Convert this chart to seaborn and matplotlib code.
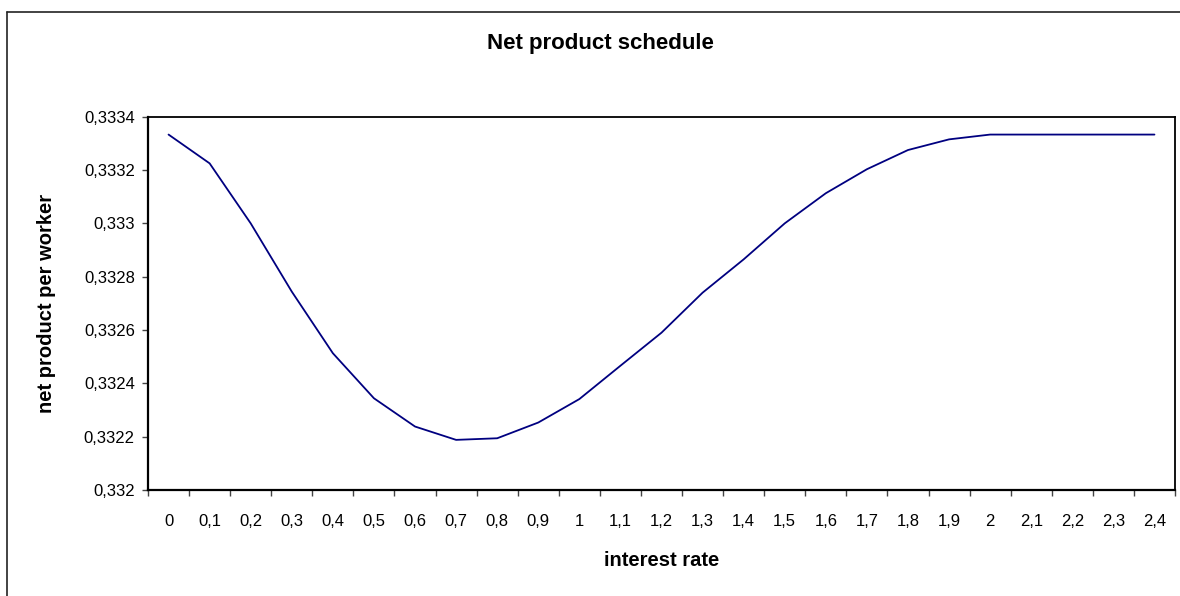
import numpy as np
import pandas as pd
import matplotlib
matplotlib.use('Agg')
import matplotlib.pyplot as plt
from matplotlib.ticker import FixedLocator, FuncFormatter, MultipleLocator
from matplotlib.lines import Line2D
import seaborn as sns

# data
rate_labels = ['0', '0,1', '0,2', '0,3', '0,4', '0,5', '0,6', '0,7', '0,8', '0,9',
               '1', '1,1', '1,2', '1,3', '1,4', '1,5', '1,6', '1,7', '1,8', '1,9',
               '2', '2,1', '2,2', '2,3', '2,4']
net_product = [0.333333, 0.333225, 0.333000, 0.332744, 0.332513, 0.332344,
               0.332238, 0.332188, 0.332194, 0.332253, 0.332341, 0.332466,
               0.332590, 0.332740, 0.332865, 0.333000, 0.333113, 0.333203,
               0.333275, 0.333315, 0.333333, 0.333333, 0.333333, 0.333333,
               0.333333]

df = pd.DataFrame({'pos': np.arange(len(rate_labels)), 'npw': net_product})

sns.set_style('white')
plt.rcParams['font.family'] = ['Liberation Sans', 'DejaVu Sans']
plt.rcParams['text.color'] = 'black'
plt.rcParams['axes.labelcolor'] = 'black'
plt.rcParams['xtick.color'] = 'black'
plt.rcParams['ytick.color'] = 'black'

W, H = 1180, 596
fig = plt.figure(figsize=(W / 100, H / 100), dpi=100)
left, right, top, bottom = 148, 1175, 116.7, 490
ax = fig.add_axes([left / W, 1 - bottom / H, (right - left) / W, (bottom - top) / H])

sns.lineplot(data=df, x='pos', y='npw', ax=ax, color='#000080', linewidth=1.3)

ax.set_xlim(-0.5, len(rate_labels) - 0.5)
ax.set_ylim(0.332, 0.3334)

# category axis: tick marks between categories, labels at centres
ax.xaxis.set_major_locator(FixedLocator(np.arange(-0.5, len(rate_labels), 1.0)))
ax.xaxis.set_major_formatter(FuncFormatter(lambda v, p: ''))
ax.set_xticks(np.arange(len(rate_labels)), labels=rate_labels, minor=True)
ax.tick_params(axis='x', which='major', direction='out', length=4.5, width=1, color='#444444', bottom=True)
ax.tick_params(axis='x', which='minor', length=0, pad=17.5, labelsize=12, labelcolor='black')

ax.yaxis.set_major_locator(MultipleLocator(0.0002))
ax.yaxis.set_major_formatter(FuncFormatter(lambda v, p: f'{v:.4f}'.rstrip('0').replace('.', ',')))
ax.tick_params(axis='y', which='major', direction='out', length=4.5, width=1, color='#444444',
               pad=5, labelsize=12, left=True, labelcolor='black')

for side in ['left', 'bottom']:
    ax.spines[side].set_linewidth(1.6)
    ax.spines[side].set_color('black')
for side in ['top', 'right']:
    ax.spines[side].set_visible(True)
    ax.spines[side].set_linewidth(1.3)
    ax.spines[side].set_color('black')

ax.set_xlabel('interest rate', fontsize=14.5, fontweight='bold')
ax.xaxis.set_label_coords(0.5, (bottom - 560) / (bottom - top))
ax.xaxis.label.set_va('center')
ax.set_ylabel('net product per worker', fontsize=14.5, fontweight='bold')
ax.yaxis.set_label_coords((47 - left) / (right - left), 0.5)
ax.yaxis.label.set_va('center')
ax.yaxis.label.set_ha('center')

fig.text(600 / W, 1 - 43 / H, 'Net product schedule', fontsize=16, fontweight='bold',
         ha='center', va='center', color='black')

# outer chart frame (only left and top edges fall inside the image)
fig.add_artist(Line2D([7 / W, 7 / W], [0, 1 - 12 / H], color='#222222', linewidth=1.2))
fig.add_artist(Line2D([7 / W, 1], [1 - 12 / H, 1 - 12 / H], color='#222222', linewidth=1.2))

fig.savefig('out.png', dpi=100)
